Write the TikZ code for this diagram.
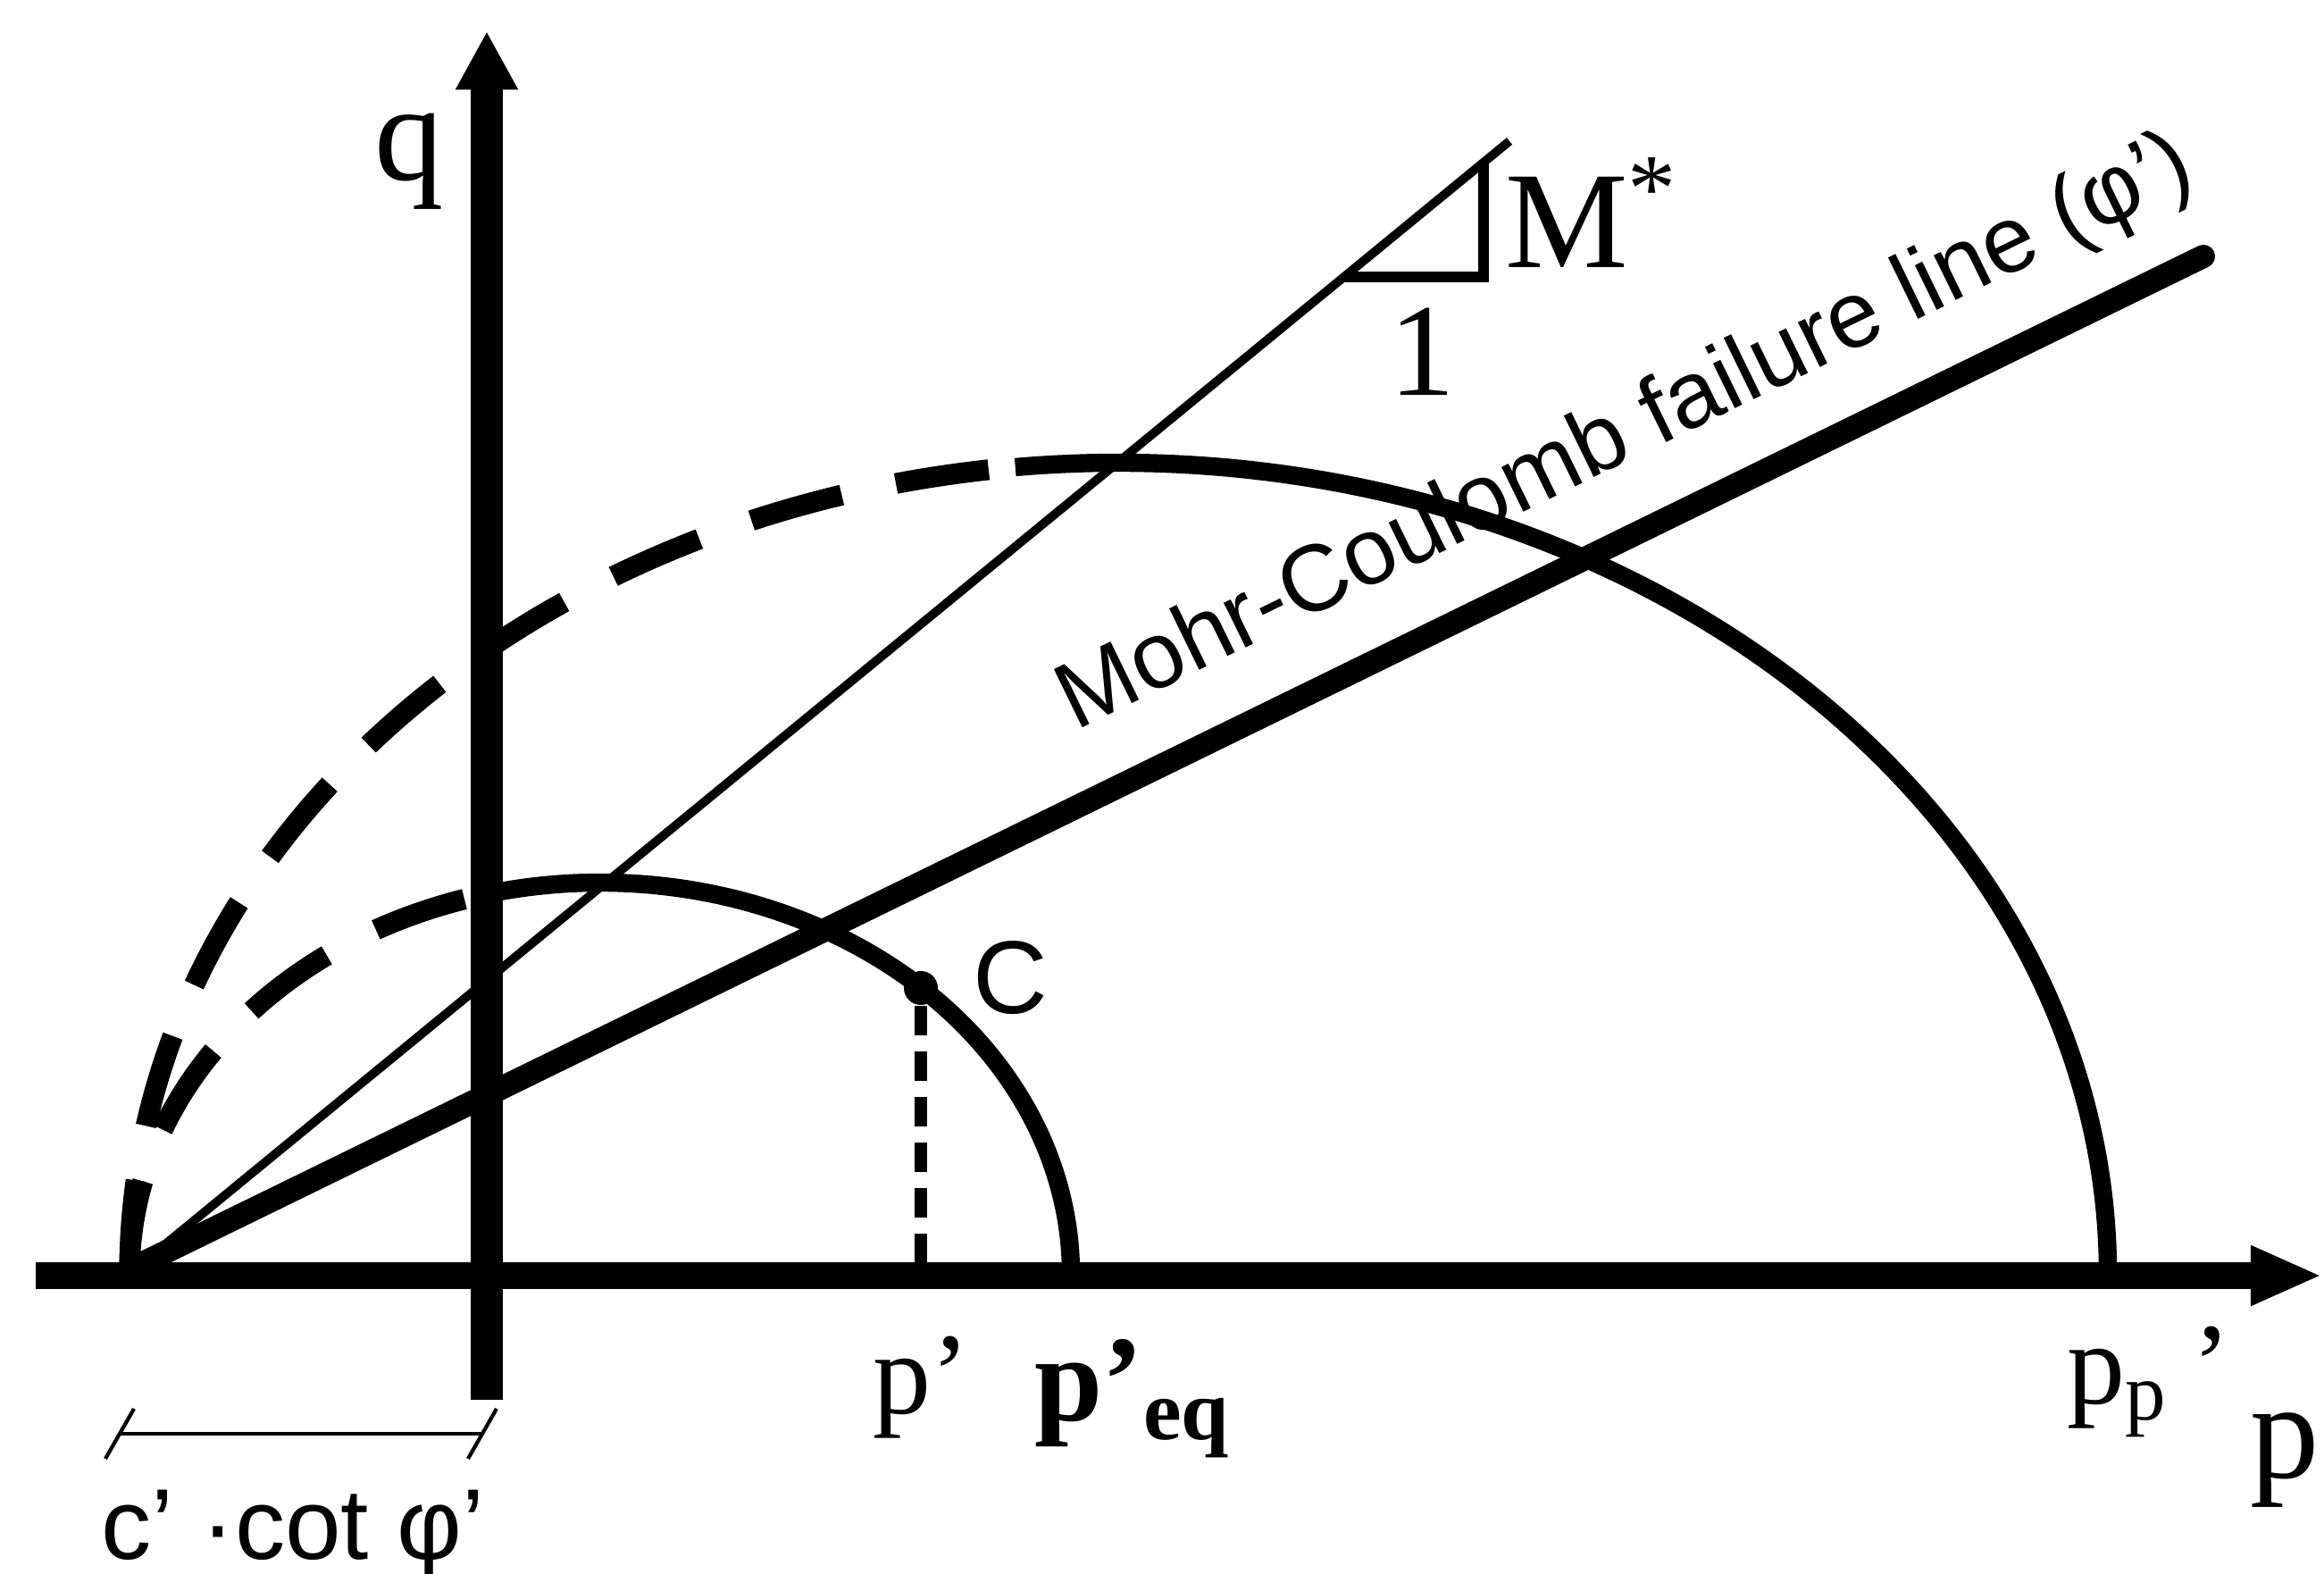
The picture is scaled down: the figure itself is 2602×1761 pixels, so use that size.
\documentclass[tikz,border=0pt]{standalone}
\usepackage{fontspec}
\setmainfont{Liberation Serif}
\setsansfont{Liberation Sans}
\usetikzlibrary{arrows.meta, positioning}
\tikzset{
  % p' axis
  paxis/.style={
    line width=4.3pt,
    -{Triangle[length=11.4pt, width=8.8pt]}
  },
  % q axis
  qaxis/.style={
    line width=5.1pt,
    -{Triangle[length=9.3pt, width=9.3pt]}
  },
  % Mohr-Coulomb failure line
  mcline/.style={
    line width=3.7pt,
    line cap=round
  },
  % M* line and its slope triangle
  msline/.style={line width=1.4pt},
  slopetri/.style={line width=1.8pt},
  % Yield surface, solid part
  yieldsolid/.style={line width=2.9pt},
  % Yield surface, dashed part (p' < 0)
  yielddashed/.style={
    line width=3.3pt,
    dash pattern=on 5.25mm off 3.1mm
  },
  % Drop line from C to the p' axis
  dropline/.style={
    line width=2.1pt,
    dash pattern=on 1.65mm off 0.9mm
  },
  % Dimension line for c' cot phi'
  dimline/.style={line width=0.6pt},
  % Stress point
  stresspt/.style={
    circle,
    fill=black,
    inner sep=0pt,
    minimum size=1.9mm
  },
  % Labels
  biglabel/.style={font=\fontsize{22}{24}\selectfont, inner sep=0pt},
  smalllabel/.style={font=\fontsize{18.5}{20}\selectfont, inner sep=0pt},
  sanslabel/.style={font=\sffamily\fontsize{16}{18}\selectfont, inner sep=0pt}
}

\begin{document}
\begin{tikzpicture}[x=0.05mm, y=0.05mm]

\useasboundingbox (0,0) rectangle (2602,1761);

%% === Key points ===
\coordinate (pStart) at (40,333);
\coordinate (pEnd) at (2600,333);
\coordinate (qStart) at (545,194);
\coordinate (qEnd) at (545,1726);
\coordinate (apex) at (158,346);
\coordinate (mcEnd) at (2467,1474);
\coordinate (msEnd) at (1690,1603);

%% === Yield surfaces ===
% small surface through p'eq
\coordinate (smallEq) at (1199,335);
\coordinate (smallLeft) at (145,335);
\draw[yieldsolid] (smallEq) arc[start angle=0, end angle=104, x radius=527, y radius=438];
\draw[yielddashed] (smallLeft) arc[start angle=180, end angle=104, x radius=527, y radius=438];

% large surface through pp'
\coordinate (largeEq) at (2360,335);
\coordinate (largeLeft) at (145,335);
\draw[yieldsolid] (largeEq) arc[start angle=0, end angle=96, x radius=1107.5, y radius=908];
\draw[yielddashed] (largeLeft) arc[start angle=180, end angle=96, x radius=1107.5, y radius=908];

%% === Failure lines ===
\draw[msline] (apex) -- (msEnd);
\draw[mcline] (apex) -- (mcEnd)
  node[sanslabel, font=\sffamily\fontsize{15}{17}\selectfont, pos=0.74, sloped, above=2.1mm] (mcText)
  {Mohr-Coulomb failure line (φ’)};

% slope triangle of M*
\coordinate (triL) at (1505,1451);
\coordinate (triR) at (1661,1451);
\coordinate (triT) at (1661,1579);
\draw[slopetri] (triL) -- (triR) -- (triT);
\node[biglabel, anchor=base west] (mStar) at (1684,1461) {M\textsuperscript{*}};
\node[biglabel, font=\fontsize{21}{23}\selectfont, anchor=base] (one) at (1592,1318) {1};

%% === Axes ===
\draw[paxis] (pStart) -- (pEnd);
\draw[qaxis] (qStart) -- (qEnd);
\node[biglabel, anchor=base] (qLabel) at (458,1559) {q};
\node[biglabel, anchor=base west] (pLabel) at (2518,107) {p’};

%% === Stress point C ===
\node[stresspt] (ptC) at (1031,655) {};
\node[sanslabel, font=\sffamily\fontsize{16.5}{18}\selectfont, anchor=base west] (cLabel) at (1088,626) {C};
\draw[dropline] (ptC) -- (ptC |- pStart);

%% === Labels on the p' axis ===
\node[smalllabel, anchor=base west] (pCur) at (976,179) {p’};
\node[smalllabel, font=\fontsize{19.5}{21}\selectfont\bfseries, anchor=base west] (pEq) at (1157,171) {p’\textsubscript{eq}};
\node[smalllabel, anchor=base west] (pPeak) at (2313,190) {p\textsubscript{p}\kern1.3mm’};

%% === c' cot phi' dimension ===
\coordinate (dimL) at (134,156);
\coordinate (dimR) at (540,156);
\draw[dimline] (dimL) -- (dimR);
\draw[dimline] ([shift={(-16,-28)}]dimL) -- ([shift={(16,28)}]dimL);
\draw[dimline] ([shift={(-16,-28)}]dimR) -- ([shift={(16,28)}]dimR);
\node[sanslabel, anchor=base west] (cotLabel) at (112,16) {c’ ·cot φ’};

\end{tikzpicture}
\end{document}
